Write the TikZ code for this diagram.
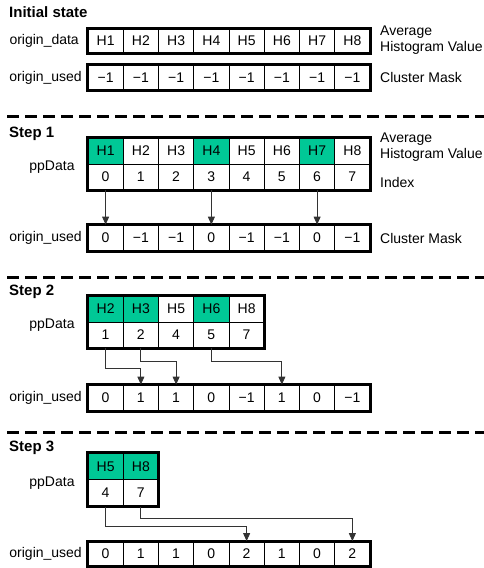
\documentclass[tikz,border=0pt]{standalone}
\usepackage{fontspec}
\setmainfont{Liberation Sans}
\usetikzlibrary{arrows.meta,calc}
\definecolor{cgreen}{RGB}{0,200,150}
\begin{document}
\begin{tikzpicture}[x=1pt,y=-1pt,
  cell/.style={draw=black,line width=0.8pt,minimum width=35.25pt,minimum height=#1,inner sep=0pt,font=\fontsize{14}{16}\selectfont},
  cell/.default=25pt,
  frame/.style={draw=black,line width=3pt},
  lbl/.style={font=\fontsize{14}{16}\selectfont,inner sep=0pt},
  ttl/.style={font=\bfseries\fontsize{15}{17}\selectfont,inner sep=0pt,anchor=west},
  sep/.style={line width=3pt,dash pattern=on 12pt off 6pt},
  arr/.style={line width=0.8pt,draw=black!80,-{Triangle[width=7pt,length=8pt]}}]
\useasboundingbox (0,0) rectangle (484,568);

% ---------------- Initial state
\node[ttl] (t0) at (9,12) {Initial state};
\node[lbl,anchor=east] (l0a) at (79,41) {origin\_data};
\foreach \t [count=\k from 0] in {H1,H2,H3,H4,H5,H6,H7,H8}
  \node[cell=24pt] (od\k) at ({105.625+35.25*\k},41) {\t};
\draw[frame] (od0.north west) rectangle (od7.south east);
\node[lbl,anchor=west,align=left] (r0a) at (380,40) {Average\\Histogram Value};

\node[lbl,anchor=east] (l0b) at (82,77.5) {origin\_used};
\foreach \t [count=\k from 0] in {−1,−1,−1,−1,−1,−1,−1,−1}
  \node[cell] (ou\k) at ({105.625+35.25*\k},77.5) {\t};
\draw[frame] (ou0.north west) rectangle (ou7.south east);
\node[lbl,anchor=west] (r0b) at (380,77.5) {Cluster Mask};

\coordinate (s1a) at (7,116);
\coordinate (s1b) at (484,116);
\draw[sep] (s1a) -- (s1b);

% ---------------- Step 1
\node[ttl] (t1) at (9,134) {Step 1};
\node[lbl] (pl1) at (52,167) {ppData};
\foreach \t/\f [count=\k from 0] in {H1/cgreen,H2/white,H3/white,H4/cgreen,H5/white,H6/white,H7/cgreen,H8/white}
  \node[cell=26pt,fill=\f] (pa\k) at ({105.625+35.25*\k},151) {\t};
\foreach \t [count=\k from 0] in {0,1,2,3,4,5,6,7}
  \node[cell=26pt] (pb\k) at ({105.625+35.25*\k},177) {\t};
\draw[frame] (pa0.north west) rectangle (pb7.south east);
\node[lbl,anchor=west,align=left] (r1a) at (380,147) {Average\\Histogram Value};
\node[lbl,anchor=west] (r1b) at (380,182) {Index};

\node[lbl,anchor=east] (l1b) at (82,238) {origin\_used};
\foreach \t [count=\k from 0] in {0,−1,−1,0,−1,−1,0,−1}
  \node[cell=26pt] (ua\k) at ({105.625+35.25*\k},238) {\t};
\draw[frame] (ua0.north west) rectangle (ua7.south east);
\node[lbl,anchor=west] (r1c) at (380,238) {Cluster Mask};

\draw[arr] (pb0.south) -- (ua0.north);
\draw[arr] (pb3.south) -- (ua3.north);
\draw[arr] (pb6.south) -- (ua6.north);

\coordinate (s2a) at (7,277);
\coordinate (s2b) at (484,277);
\draw[sep] (s2a) -- (s2b);

% ---------------- Step 2
\node[ttl] (t2) at (9,292) {Step 2};
\node[lbl] (pl2) at (52,325) {ppData};
\foreach \t/\f [count=\k from 0] in {H2/cgreen,H3/cgreen,H5/white,H6/cgreen,H8/white}
  \node[cell=26pt,fill=\f] (qa\k) at ({105.625+35.25*\k},309) {\t};
\foreach \t [count=\k from 0] in {1,2,4,5,7}
  \node[cell=26pt] (qb\k) at ({105.625+35.25*\k},335) {\t};
\draw[frame] (qa0.north west) rectangle (qb4.south east);

\node[lbl,anchor=east] (l2b) at (82,398) {origin\_used};
\foreach \t [count=\k from 0] in {0,1,1,0,−1,1,0,−1}
  \node[cell=26pt] (ub\k) at ({105.625+35.25*\k},398) {\t};
\draw[frame] (ub0.north west) rectangle (ub7.south east);

\draw[arr] (qb0.south) -- ++(0,20) -| (ub1.north);
\draw[arr] (qb1.south) -- ++(0,13) -| (ub2.north);
\draw[arr] (qb3.south) -- ++(0,13) -| (ub5.north);

\coordinate (s3a) at (7,432);
\coordinate (s3b) at (484,432);
\draw[sep] (s3a) -- (s3b);

% ---------------- Step 3
\node[ttl] (t3) at (9,448) {Step 3};
\node[lbl] (pl3) at (52,483) {ppData};
\foreach \t/\f [count=\k from 0] in {H5/cgreen,H8/cgreen}
  \node[cell=26.5pt,fill=\f] (ra\k) at ({105.625+35.25*\k},466.5) {\t};
\foreach \t [count=\k from 0] in {4,7}
  \node[cell=26.5pt] (rb\k) at ({105.625+35.25*\k},493) {\t};
\draw[frame] (ra0.north west) rectangle (rb1.south east);

\node[lbl,anchor=east] (l3b) at (82,554) {origin\_used};
\foreach \t [count=\k from 0] in {0,1,1,0,2,1,0,2}
  \node[cell=25pt] (uc\k) at ({105.625+35.25*\k},554) {\t};
\draw[frame] (uc0.north west) rectangle (uc7.south east);

\draw[arr] (rb0.south) -- ++(0,20) -| (uc4.north);
\draw[arr] (rb1.south) -- ++(0,12) -| (uc7.north);
\end{tikzpicture}
\end{document}
